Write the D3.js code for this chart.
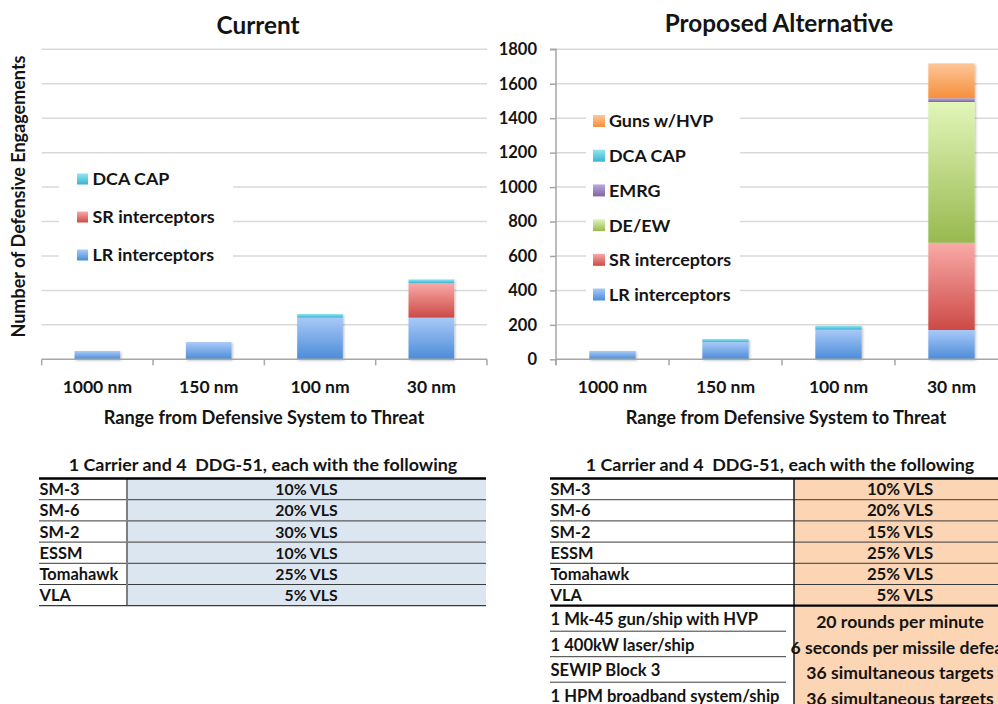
<!DOCTYPE html>
<html>
<head>
<meta charset="utf-8">
<script src="https://cdn.jsdelivr.net/npm/d3@7/dist/d3.min.js"></script>
<style>
  html, body { margin: 0; padding: 0; background: #fff; }
  svg { display: block; font-family: "Lato", "Open Sans", sans-serif; font-weight: bold; }
  text { fill: #141414; }
</style>
</head>
<body>
<svg id="chart" width="998" height="704"></svg>
<script>
// ---------- DATA ----------
const categories = ["1000 nm", "150 nm", "100 nm", "30 nm"];
const yTicks = [0, 200, 400, 600, 800, 1000, 1200, 1400, 1600, 1800];

// Current
const currentLR  = [48, 100, 242, 242];
const currentSR  = [0, 0, 0, 200];
const currentDCA = [0, 0, 21, 22];

// Proposed Alternative
const proposedLR   = [48, 100, 172, 170];
const proposedSR   = [0, 0, 0, 507];
const proposedDEEW = [0, 0, 0, 817];
const proposedEMRG = [0, 0, 0, 22];
const proposedDCA  = [0, 18, 23, 0];
const proposedGuns = [0, 0, 0, 202];

const currentSeries = ["LR interceptors", "SR interceptors", "DCA CAP"];
const proposedSeries = ["LR interceptors", "SR interceptors", "DE/EW", "EMRG", "DCA CAP", "Guns w/HVP"];

// Tables
const weaponNames = ["SM-3", "SM-6", "SM-2", "ESSM", "Tomahawk", "VLA"];
const currentLoadout = ["10% VLS", "20% VLS", "30% VLS", "10% VLS", "25% VLS", "\u20075% VLS"];
const proposedLoadout = ["10% VLS", "20% VLS", "15% VLS", "25% VLS", "25% VLS", "\u20075% VLS"];
const extraSystems = ["1 Mk-45 gun/ship with HVP", "1 400kW laser/ship", "SEWIP Block 3", "1 HPM broadband system/ship"];
const extraCapability = ["20 rounds per minute", "6 seconds per missile defeat", "36 simultaneous targets", "36 simultaneous targets"];
const tableTitle = "1 Carrier and 4  DDG-51, each with the following";

// ---------- STYLE ----------
const gradColors = {
  "LR interceptors": ["#a9c9f8", "#4b8cd8"],
  "SR interceptors": ["#f9aaa8", "#cc4a45"],
  "DCA CAP": ["#92e6f3", "#38b4cf"],
  "DE/EW": ["#e1f6b9", "#98b94f"],
  "EMRG": ["#bcaadb", "#7f63a6"],
  "Guns w/HVP": ["#fdc699", "#f5903b"]
};

const svg = d3.select("#chart");
const defs = svg.append("defs");
Object.entries(gradColors).forEach(([k, c], i) => {
  const g = defs.append("linearGradient").attr("id", "g" + i)
    .attr("x1", 0).attr("y1", 0).attr("x2", 0).attr("y2", 1);
  g.append("stop").attr("offset", "0%").attr("stop-color", c[0]);
  g.append("stop").attr("offset", "100%").attr("stop-color", c[1]);
  gradColors[k].id = "g" + i;
});
const shadow = defs.append("filter").attr("id", "shadow")
  .attr("x", "-20%").attr("y", "-20%").attr("width", "140%").attr("height", "140%");
shadow.append("feDropShadow").attr("dx", 1.2).attr("dy", 1.2).attr("stdDeviation", 1.2)
  .attr("flood-color", "#000").attr("flood-opacity", 0.25);

const y = d3.scaleLinear().domain([0, 1800]).range([359.3, 49.3]);

function drawChart(opts) {
  const { x, seriesNames, values, title, titleX, titleY, showYAxis, legend, gridRight } = opts;
  const g = svg.append("g");
  const x0 = x.range()[0];

  // gridlines
  g.append("g").selectAll("line").data(yTicks.filter(t => t > 0)).join("line")
    .attr("x1", x0).attr("x2", gridRight)
    .attr("y1", d => y(d)).attr("y2", d => y(d))
    .attr("stroke", "#d9d9d9").attr("stroke-width", 1.5);

  // legend background (interrupts gridlines)
  g.append("rect").attr("x", legend.x0).attr("y", legend.y0)
    .attr("width", legend.x1 - legend.x0).attr("height", legend.y1 - legend.y0)
    .attr("fill", "#fff");

  // stacked bars
  const rows = categories.map((c, i) => {
    const o = { cat: c };
    seriesNames.forEach((s, j) => o[s] = values[j][i]);
    return o;
  });
  const stack = d3.stack().keys(seriesNames)(rows);
  const barG = g.append("g").attr("filter", "url(#shadow)");
  stack.forEach(layer => {
    barG.append("g").attr("fill", "url(#" + gradColors[layer.key].id + ")")
      .selectAll("rect").data(layer.filter(d => d[1] - d[0] > 0)).join("rect")
      .attr("x", d => x(d.data.cat))
      .attr("width", x.bandwidth())
      .attr("y", d => y(d[1]))
      .attr("height", d => y(d[0]) - y(d[1]));
  });

  // x axis line
  g.append("line").attr("x1", x0).attr("x2", x.range()[1])
    .attr("y1", y(0)).attr("y2", y(0))
    .attr("stroke", "#a6a6a6").attr("stroke-width", 1.5);
  const half = (x.step() - x.bandwidth()) / 2;
  const bounds = categories.map(c => x(c) - half).concat([x.range()[1]]);
  g.append("g").selectAll("line").data(bounds).join("line")
    .attr("x1", d => d).attr("x2", d => d)
    .attr("y1", y(0)).attr("y2", y(0) + 6)
    .attr("stroke", "#a6a6a6").attr("stroke-width", 1.5);

  const xAxis = g.append("g").attr("transform", `translate(0,${y(0)})`)
    .call(d3.axisBottom(x).tickSize(0).tickPadding(21));
  xAxis.select(".domain").remove();
  xAxis.selectAll("text").attr("font-size", 17.5).attr("font-weight", "bold")
    .attr("font-family", "Lato").attr("fill", "#141414");

  if (showYAxis) {
    const yAxis = g.append("g").attr("transform", `translate(${x0},0)`)
      .call(d3.axisLeft(y).tickValues(yTicks).tickSize(6).tickPadding(13).tickFormat(d3.format("d")));
    yAxis.select(".domain").attr("stroke", "#a6a6a6").attr("stroke-width", 1.5)
      .attr("d", `M-6,${y(1800)}H0V${y(0) + 6}`);
    yAxis.selectAll(".tick line").attr("stroke", "#a6a6a6").attr("stroke-width", 1.5);
    yAxis.selectAll("text").attr("font-size", 16.5).attr("font-weight", "bold")
      .attr("font-family", "Lato").attr("fill", "#141414");
  }

  // axis title
  g.append("text").attr("x", opts.xTitleX).attr("y", 424)
    .attr("text-anchor", "middle").attr("font-size", 18.2)
    .text("Range from Defensive System to Threat");

  // chart title
  g.append("text").attr("x", titleX).attr("y", titleY)
    .attr("text-anchor", "middle").attr("font-size", 24.3).text(title);

  // legend
  const items = seriesNames.slice().reverse();
  const lg = g.append("g");
  items.forEach((s, i) => {
    const cy = legend.firstY + i * legend.step;
    lg.append("rect").attr("x", legend.sx).attr("y", cy - legend.sw / 2)
      .attr("width", legend.sw).attr("height", legend.sw)
      .attr("fill", "url(#" + gradColors[s].id + ")");
    lg.append("text").attr("x", legend.tx).attr("y", cy).attr("dy", "0.36em")
      .attr("font-size", 17.9).text(s);
  });
}

// Current chart
const xLeft = d3.scaleBand().domain(categories).range([41.7, 487])
  .paddingInner(0.59).paddingOuter(0.295);
drawChart({
  x: xLeft, seriesNames: currentSeries, values: [currentLR, currentSR, currentDCA],
  title: "Current", titleX: 258, titleY: 34, showYAxis: false, gridRight: 487,
  xTitleX: 264,
  legend: { x0: 59, x1: 233, y0: 156, y1: 270, sx: 77, sw: 11, tx: 92.5, firstY: 179, step: 38 }
});

// Proposed chart
const xRight = d3.scaleBand().domain(categories).range([556, 1008])
  .paddingInner(0.59).paddingOuter(0.295);
drawChart({
  x: xRight, seriesNames: proposedSeries,
  values: [proposedLR, proposedSR, proposedDEEW, proposedEMRG, proposedDCA, proposedGuns],
  title: "Proposed Alternative", titleX: 779, titleY: 32, showYAxis: true, gridRight: 998,
  xTitleX: 786,
  legend: { x0: 586, x1: 740, y0: 101, y1: 312, sx: 593, sw: 12, tx: 609, firstY: 121, step: 34.7 }
});

// Y axis title (left chart)
svg.append("text").attr("transform", "translate(25,196.5) rotate(-90)")
  .attr("text-anchor", "middle").attr("font-size", 18)
  .text("Number of Defensive Engagements");

// ---------- TABLES ----------
function drawTable(t) {
  const g = svg.append("g");
  const rowH = 21.2, top = 478.5;
  const nMain = weaponNames.length;
  const mainBottom = top + nMain * rowH;
  const lowH = 25.5;
  const nExtra = t.extra ? extraSystems.length : 0;
  const bottom = mainBottom + nExtra * lowH;

  g.append("rect").attr("x", t.div).attr("y", top).attr("width", t.x1 - t.div)
    .attr("height", bottom - top).attr("fill", t.bg);

  g.append("text").attr("x", t.titleX).attr("y", 471).attr("text-anchor", "middle")
    .attr("font-size", 17.9).style("white-space", "pre").text(tableTitle);

  // row lines
  const mainLines = d3.range(1, nMain).map(i => top + i * rowH);
  g.append("g").selectAll("line").data(mainLines).join("line")
    .attr("x1", t.x0).attr("x2", t.x1).attr("y1", d => d).attr("y2", d => d)
    .attr("stroke", "#3a3a3a").attr("stroke-width", 1);

  g.append("line").attr("x1", t.div).attr("x2", t.div).attr("y1", top).attr("y2", bottom)
    .attr("stroke", t.divColor).attr("stroke-width", t.divW);

  g.append("line").attr("x1", t.x0).attr("x2", t.x1).attr("y1", top).attr("y2", top)
    .attr("stroke", "#000").attr("stroke-width", 2.5);
  g.append("line").attr("x1", t.x0).attr("x2", t.x1).attr("y1", mainBottom).attr("y2", mainBottom)
    .attr("stroke", t.extra ? "#000" : "#3a3a3a").attr("stroke-width", t.extra ? 2.2 : 1.2);

  weaponNames.forEach((w, i) => {
    const b = top + (i + 1) * rowH;
    g.append("text").attr("x", t.x0 + 0.5).attr("y", b - 4.5).attr("font-size", 16.4).text(w);
    g.append("text").attr("x", t.valX).attr("y", b - 4.5).attr("text-anchor", "middle")
      .attr("font-size", t.valSize).style("white-space", "pre").text(t.values[i]);
  });

  if (t.extra) {
    const lowLines = d3.range(1, nExtra).map(i => mainBottom + i * lowH);
    g.append("g").selectAll("line").data(lowLines).join("line")
      .attr("x1", t.x0).attr("x2", t.div - 8).attr("y1", d => d).attr("y2", d => d)
      .attr("stroke", "#3a3a3a").attr("stroke-width", 1);
    extraSystems.forEach((s, i) => {
      const b = mainBottom + (i + 1) * lowH;
      g.append("text").attr("x", t.x0 + 0.5).attr("y", b - 6).attr("font-size", 16.6).text(s);
      g.append("text").attr("x", t.valX).attr("y", b - 3).attr("text-anchor", "middle")
        .attr("font-size", 17.6).text(extraCapability[i]);
    });
  }
}

drawTable({ x0: 39, x1: 486, div: 127, valX: 306.5, titleX: 263, bg: "#dce6f1",
  divColor: "#7f7f7f", divW: 2, values: currentLoadout, valSize: 15.8, extra: false });
drawTable({ x0: 550, x1: 1010, div: 794, valX: 900, titleX: 780, bg: "#fcd5b4",
  divColor: "#1a1a1a", divW: 1.5, values: proposedLoadout, valSize: 16.8, extra: true });
</script>
</body>
</html>
